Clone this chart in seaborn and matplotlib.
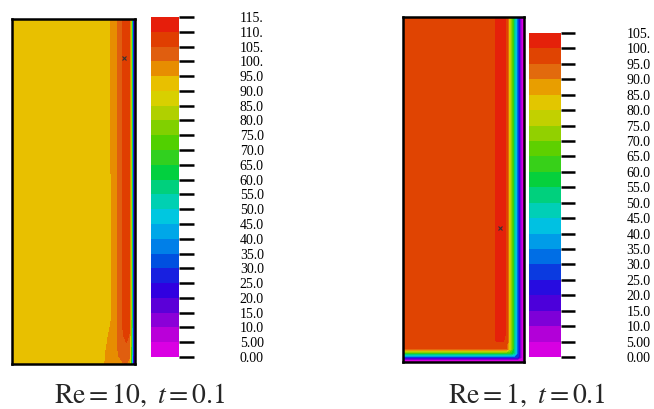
import numpy as np
import matplotlib
matplotlib.use('Agg')
import matplotlib.pyplot as plt
import seaborn as sns
from matplotlib.colors import LinearSegmentedColormap

# contour levels shown on the two colour bars
left_levels = [0, 5, 10, 15, 20, 25, 30, 35, 40, 45, 50, 55, 60, 65, 70, 75, 80, 85, 90, 95, 100, 105, 110, 115]
left_labels = ['0.00', '5.00', '10.0', '15.0', '20.0', '25.0', '30.0', '35.0', '40.0', '45.0', '50.0', '55.0',
               '60.0', '65.0', '70.0', '75.0', '80.0', '85.0', '90.0', '95.0', '100.', '105.', '110.', '115.']
right_levels = [0, 5, 10, 15, 20, 25, 30, 35, 40, 45, 50, 55, 60, 65, 70, 75, 80, 85, 90, 95, 100, 105]
right_labels = ['0.00', '5.00', '10.0', '15.0', '20.0', '25.0', '30.0', '35.0', '40.0', '45.0', '50.0', '55.0',
                '60.0', '65.0', '70.0', '75.0', '80.0', '85.0', '90.0', '95.0', '100.', '105.']

# Re = 10 field (x across the cavity, y up from the bottom, both 0..1)
left_x = [0.0, 0.70, 0.76, 0.80, 0.84, 0.87, 0.90, 0.93, 0.955, 0.97, 0.985, 1.0]
left_y = [0.0, 0.03, 0.08, 0.13, 1.0]
left_T = [
    [92, 93.0, 95.2, 96.5, 97.5, 98.5, 99.5, 100.0, 98.0, 60, 20, 0],
    [92, 93.0, 95.0, 96.8, 98.5, 100.5, 102.0, 103.0, 101.0, 68, 22, 0],
    [92, 92.8, 94.0, 95.8, 98.0, 101.5, 104.5, 106.0, 104.5, 72, 24, 0],
    [92, 92.5, 93.2, 94.5, 97.5, 101.5, 105.5, 107.5, 106.0, 75, 25, 0],
    [92, 92.5, 93.2, 94.8, 97.5, 101.5, 105.5, 107.5, 106.0, 75, 25, 0],
]

# Re = 1 field: profile across the cavity and profile up from the bottom wall
right_x = [0.0, 0.745, 0.77, 0.83, 0.855, 0.89, 0.92, 0.95, 0.985, 1.0]
right_Tx = [97, 98, 101, 101.5, 99, 75, 52, 27, 2, 0]
right_y = [0.0, 0.006, 0.015, 0.025, 0.038, 0.058, 0.08, 1.0]
right_Ty = [0, 3, 30, 60, 95, 100, 103, 103]

# probe markers
left_probe_x, left_probe_y = [0.91], [0.887]
right_probe_x, right_probe_y = [0.80], [0.388]

band_colors = ['#e800e8', '#b800d8', '#8800d8', '#5800d8', '#3000e0', '#1820e0', '#0050e0', '#0080e8',
               '#00a8e8', '#00c8e0', '#00d0b0', '#00d080', '#00d040', '#30d020', '#50d000', '#80d000',
               '#b0d000', '#d8d000', '#e8c000', '#e89000', '#e06010', '#e04000', '#e81010']

sns.set_theme(style='white')
plt.rcParams['font.family'] = ['Liberation Serif', 'DejaVu Serif']
plt.rcParams['mathtext.fontset'] = 'stix'

n = len(band_colors)
pos = [0.0] + [(i + 0.5) / n for i in range(1, n - 1)] + [1.0]
cmap = LinearSegmentedColormap.from_list('tec', list(zip(pos, band_colors)))

fig = plt.figure(figsize=(6.54, 4.09), dpi=100)


def panel(rect, cbar_rect, X, Y, T, levels, labels, px, py, tick_len, pad):
    ax = fig.add_axes(rect)
    cs = ax.contourf(X, Y, T, levels=levels, cmap=cmap)
    ax.plot(px, py, marker='x', ms=3.5, mew=0.8, color='#333333', ls='none')
    ax.set_xlim(0, 1)
    ax.set_ylim(0, 1)
    ax.set_xticks([])
    ax.set_yticks([])
    for s in ax.spines.values():
        s.set_color('black')
        s.set_linewidth(1.8)
    cax = fig.add_axes(cbar_rect)
    cb = fig.colorbar(cs, cax=cax, ticks=levels)
    cb.set_ticklabels(labels)
    cb.outline.set_visible(False)
    cax.yaxis.set_ticks_position('right')
    cax.tick_params(axis='y', length=tick_len, width=1.8, direction='out', pad=pad,
                    labelsize=10, color='black', labelcolor='black')
    return ax


LX, LY = np.meshgrid(left_x, left_y)
panel([12 / 654, 45 / 409, 123 / 654, 345 / 409], [151 / 654, 52 / 409, 28 / 654, 340 / 409],
      LX, LY, np.array(left_T), left_levels, left_labels, left_probe_x, left_probe_y, 10.8, 33)

RX, RY = np.meshgrid(right_x, right_y)
right_T = np.minimum(np.array(right_Tx)[None, :], np.array(right_Ty)[:, None])
panel([403 / 654, 47 / 409, 121 / 654, 345 / 409], [529 / 654, 52 / 409, 32 / 654, 324 / 409],
      RX, RY, right_T, right_levels, right_labels, right_probe_x, right_probe_y, 10, 37)

fig.text(140 / 654, 14 / 409, r'$\mathrm{Re}=10,\ t=0.1$', ha='center', va='center', fontsize=20)
fig.text(527 / 654, 14 / 409, r'$\mathrm{Re}=1,\ t=0.1$', ha='center', va='center', fontsize=20)

fig.savefig('out.png', dpi=100)
